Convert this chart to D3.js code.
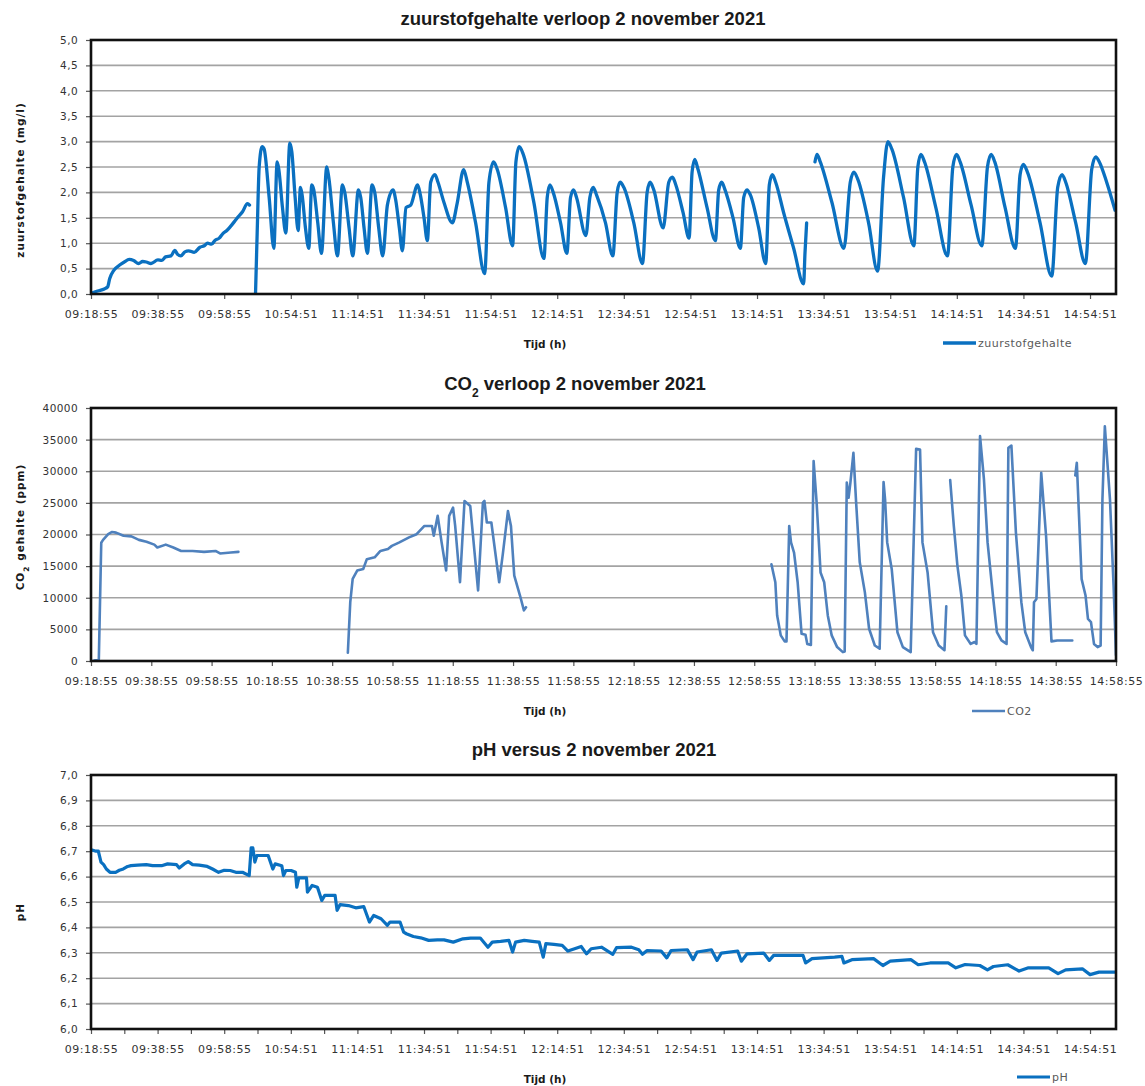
<!DOCTYPE html>
<html><head><meta charset="utf-8">
<script src="https://cdn.jsdelivr.net/npm/d3@7"></script>
<style>body{margin:0;background:#fff}</style>
</head><body><svg id="c" width="1145" height="1086"></svg>
<script>
// ---------- DATA ----------
// category axis labels (O2 and pH charts); each label is one step of 20 on the x scale
const catTickLabels = ["09:18:55","09:38:55","09:58:55","10:54:51","11:14:51","11:34:51","11:54:51","12:14:51","12:34:51","12:54:51","13:14:51","13:34:51","13:54:51","14:14:51","14:34:51","14:54:51"];
// time axis labels for CO2 chart (minutes after 09:18:55)
const co2TickLabels = ["09:18:55","09:38:55","09:58:55","10:18:55","10:38:55","10:58:55","11:18:55","11:38:55","11:58:55","12:18:55","12:38:55","12:58:55","13:18:55","13:38:55","13:58:55","14:18:55","14:38:55","14:58:55"];
const o2YTicks = [0,0.5,1,1.5,2,2.5,3,3.5,4,4.5,5];
const co2YTicks = [0,5000,10000,15000,20000,25000,30000,35000,40000];
const phYTicks = [6.0,6.1,6.2,6.3,6.4,6.5,6.6,6.7,6.8,6.9,7.0];

// zuurstofgehalte (mg/l): [position on category axis, value]; null = gap
const o2Points = [
 [0.3,0.02],[2.0,0.06],[4.0,0.10],[5.0,0.14],[5.6,0.30],[6.9,0.47],[8.6,0.57],[10.0,0.63],[11.5,0.68],[12.8,0.66],
 [14.3,0.60],[15.5,0.64],[16.6,0.63],[18.0,0.60],[20.1,0.67],[21.2,0.66],[22.4,0.73],[24.0,0.75],[25.2,0.86],[26.0,0.78],
 [27.0,0.75],[28.2,0.83],[29.3,0.85],[31.0,0.82],[32.7,0.92],[34.0,0.95],[35.0,1.00],[36.2,0.98],[37.3,1.06],[38.5,1.10],
 [39.6,1.19],[40.8,1.25],[41.9,1.33],[43.0,1.42],[44.2,1.52],[45.5,1.62],[47.0,1.78],[47.6,1.75],
 null,
 [49.4,0.0],[49.9,1.2],[50.5,2.5],[51.4,2.9],[52.0,2.85],[53.5,1.9],[54.9,0.9],[55.9,2.6],[56.4,2.45],[57.5,1.7],
 [58.5,1.2],[59.7,2.97],[60.3,2.8],[61.3,1.9],[62.2,1.25],[62.9,2.1],[63.4,1.95],[64.4,1.3],[65.4,0.9],[66.3,2.15],
 [66.9,2.05],[68.1,1.4],[69.2,0.8],[70.8,2.5],[71.4,2.3],[72.8,1.4],[74.0,0.75],[75.5,2.15],[76.2,2.0],[77.5,1.3],
 [78.6,0.75],[80.3,2.05],[81.0,1.9],[82.0,1.3],[83.0,0.8],[84.4,2.15],[85.2,2.0],[86.4,1.3],[87.6,0.75],[89.0,1.75],
 [90.7,2.05],[91.5,1.85],[92.6,1.3],[93.5,0.85],[94.6,1.7],[96.0,1.75],[98.1,2.15],[98.9,1.95],[100.0,1.5],[101.0,1.05],
 [102.0,2.2],[103.3,2.35],[104.2,2.2],[106.0,1.8],[108.5,1.4],[110.0,1.8],[111.9,2.45],[113.0,2.2],[115.5,1.4],[118.2,0.4],
 [119.5,2.2],[120.9,2.6],[122.0,2.45],[124.5,1.7],[126.6,0.95],[127.6,2.6],[128.6,2.9],[129.8,2.75],[133.0,1.8],[136.0,0.7],
 [137.0,1.9],[137.8,2.15],[138.8,2.0],[141.0,1.4],[142.9,0.8],[144.0,1.9],[144.9,2.05],[145.8,1.9],[148.6,1.15],[149.8,1.9],
 [150.8,2.1],[151.8,1.95],[154.5,1.4],[156.7,0.75],[158.0,2.0],[158.9,2.2],[160.0,2.1],[163.0,1.4],[165.6,0.6],[167.0,2.0],
 [167.9,2.2],[169.0,2.05],[171.8,1.3],[173.5,2.2],[174.6,2.3],[175.6,2.15],[177.8,1.6],[179.6,1.1],[180.5,2.4],[181.3,2.65],
 [182.3,2.45],[185.0,1.7],[187.5,1.05],[188.5,2.05],[189.4,2.2],[190.4,2.05],[192.8,1.5],[195.0,0.9],[196.0,1.9],[197.0,2.05],
 [198.0,1.95],[200.5,1.3],[202.6,0.6],[203.7,2.15],[204.6,2.35],[205.6,2.2],[208.0,1.6],[211.0,0.9],[214.0,0.2],[214.4,0.8],[214.9,1.4],
 null,
 [217.4,2.6],[218.0,2.75],[219.0,2.6],[222.5,1.8],[226.1,0.9],[228.0,2.2],[229.1,2.4],[230.3,2.25],[233.5,1.4],[236.2,0.45],
 [238.0,2.3],[239.3,3.0],[240.5,2.85],[244.0,1.9],[247.1,0.95],[248.3,2.5],[249.2,2.75],[250.3,2.6],[253.7,1.7],[257.2,0.75],
 [258.8,2.5],[259.9,2.75],[261.0,2.6],[264.3,1.75],[267.5,0.95],[269.2,2.5],[270.3,2.75],[271.4,2.6],[274.5,1.7],[277.6,0.9],
 [279.0,2.35],[280.0,2.55],[281.2,2.4],[285.0,1.4],[288.5,0.35],[290.3,2.1],[291.6,2.35],[292.7,2.2],[295.7,1.4],[298.6,0.6],
 [300.5,2.45],[301.7,2.7],[302.8,2.6],[305.0,2.2],[307.5,1.65]
];

// CO2 (ppm): [minutes after 09:18:55, value]; null = gap
const co2Points = [
 [0.7,0],[2.6,300],[3.4,18700],[4.0,19150],[5.7,20050],[7.0,20400],[8.3,20300],[10.8,19800],[13.4,19700],[15.9,19150],
 [18.4,18850],[21.0,18400],[22.0,17950],[24.8,18400],[27.3,17950],[29.9,17400],[33.7,17400],[37.5,17250],[41.3,17400],
 [42.8,17000],[46.4,17150],[48.9,17250],
 null,
 [85.2,1300],[86.0,9300],[86.8,13000],[88.3,14300],[90.3,14550],[91.5,16100],[94.1,16400],[96.0,17400],[98.5,17700],
 [99.8,18200],[102.3,18750],[105.5,19550],[108.0,20050],[110.6,21350],[113.1,21350],[113.7,19800],[115.0,22950],[116.3,18750],
 [117.8,14300],[118.8,22950],[120.1,24250],[120.8,21350],[122.4,12450],[123.9,25300],[125.8,24500],[128.4,11150],[130.0,25050],
 [130.5,25300],[131.3,21900],[132.8,21900],[135.4,12450],[136.6,16900],[138.3,23700],[139.3,21350],[140.4,13500],[142.3,10350],
 [143.6,8000],[144.3,8500],
 null,
 [225.7,15300],[227.0,12450],[227.6,7200],[228.8,4050],[230.1,3100],[230.7,3100],[231.6,21350],[232.2,18750],[233.2,17150],
 [234.4,12450],[235.7,4300],[237.0,4150],[237.6,2700],[238.8,2550],[239.7,31600],[240.7,25050],[242.0,14000],[243.2,12450],
 [244.4,7200],[245.7,4050],[247.5,2200],[249.4,1400],[250.0,1500],[250.7,28200],[251.3,25800],[251.9,28200],[252.9,32900],
 [253.8,25050],[255.0,15600],[256.7,10850],[258.1,5100],[260.0,2450],[261.6,1950],[262.9,28300],[263.4,25550],[264.1,18750],
 [265.6,14550],[267.5,4550],[269.3,2200],[271.9,1400],[273.7,33550],[275.0,33450],[275.8,18750],[277.5,14000],[279.3,4550],
 [281.2,2450],[283.1,1700],[283.7,8650],
 null,
 [285.0,28600],[286.2,21350],[287.4,15050],[288.7,10350],[289.9,4050],[291.8,2700],[293.1,3000],[293.7,2700],[294.9,35550],
 [296.2,28700],[297.4,18750],[299.3,9800],[300.5,4550],[302.0,3250],[303.7,2700],[304.3,33700],[305.3,34050],[306.8,20300],
 [308.6,9300],[309.9,4550],[311.8,2200],[312.4,1700],[312.8,9300],[313.6,9800],[315.2,29750],[316.8,19800],[318.6,3100],
 [320.5,3250],[325.5,3250],
 null,
 [326.5,29350],[327.0,31350],[328.6,12950],[329.9,10350],[330.7,6650],[331.7,6150],[332.7,2700],[333.9,2200],[334.9,2450],
 [335.5,25550],[336.3,37100],[338.0,25550],[339.2,11900],[340.0,900]
];

// pH: [position on category axis, value]
const phPoints = [
 [0.3,6.705],[1.5,6.70],[2.2,6.70],[3.0,6.657],[3.8,6.647],[4.6,6.63],[5.7,6.617],[7.4,6.617],[8.5,6.625],[9.7,6.63],
 [11.0,6.64],[12.0,6.643],[14.0,6.645],[16.6,6.647],[18.5,6.643],[21.2,6.643],[23.0,6.65],[25.7,6.647],[26.5,6.634],[28.0,6.65],
 [29.2,6.659],[30.5,6.647],[32.5,6.645],[34.9,6.64],[36.5,6.63],[38.3,6.617],[40.0,6.625],[41.8,6.624],[43.5,6.617],[45.5,6.617],
 [47.5,6.604],[48.1,6.713],[48.6,6.713],[49.2,6.657],[49.8,6.683],[53.2,6.683],[54.6,6.63],[55.3,6.65],[57.3,6.643],[57.8,6.604],
 [58.5,6.624],[60.1,6.624],[61.4,6.617],[61.8,6.558],[62.4,6.595],[64.7,6.595],[65.0,6.539],[66.4,6.565],[68.0,6.558],[69.3,6.506],
 [70.2,6.526],[73.3,6.526],[73.9,6.467],[74.8,6.49],[77.3,6.486],[79.5,6.477],[81.9,6.482],[83.6,6.421],[84.9,6.447],[87.1,6.434],
 [89.0,6.408],[89.8,6.421],[92.8,6.421],[93.9,6.381],[94.7,6.375],[96.8,6.364],[99.0,6.359],[101.4,6.349],[104.0,6.351],[106.0,6.351],
 [108.8,6.342],[111.7,6.355],[114.0,6.358],[116.9,6.358],[119.2,6.322],[120.5,6.342],[123.0,6.345],[125.5,6.349],[126.6,6.303],[127.5,6.342],
 [130.1,6.349],[132.5,6.345],[134.6,6.342],[135.8,6.283],[136.6,6.336],[139.0,6.333],[141.5,6.329],[143.2,6.307],[145.0,6.315],[147.2,6.325],
 [148.8,6.296],[150.2,6.316],[153.3,6.322],[156.7,6.294],[157.8,6.32],[162.3,6.322],[164.5,6.312],[165.6,6.294],[167.0,6.309],[171.2,6.307],
 [172.9,6.28],[174.2,6.309],[179.1,6.312],[180.8,6.273],[182.0,6.303],[186.3,6.312],[188.0,6.27],[189.3,6.299],[194.2,6.307],[195.3,6.267],
 [197.0,6.296],[202.0,6.299],[203.7,6.27],[205.0,6.29],[213.8,6.29],[214.6,6.26],[216.5,6.277],[223.3,6.283],[225.5,6.286],[226.1,6.26],
 [228.5,6.273],[235.0,6.277],[237.8,6.25],[240.0,6.267],[246.2,6.273],[248.4,6.253],[252.0,6.26],[257.4,6.26],[259.7,6.241],[262.5,6.254],
 [266.9,6.25],[269.2,6.233],[271.0,6.246],[275.3,6.253],[278.7,6.228],[281.5,6.241],[287.6,6.241],[290.4,6.218],[292.7,6.233],[297.7,6.237],
 [300.0,6.214],[302.7,6.224],[307.5,6.224]
];

// ---------- DRAWING ----------
const svg = d3.select("#c");
svg.append("rect").attr("width",1145).attr("height",1086).attr("fill","#fff");

const PL = 91, PR = 1116;
const tickFont = "DejaVu Sans";
const commaFmt = d => d3.format(".1f")(d).replace(".", ",");

function panel(o){
  const g = svg.append("g");
  const x = d3.scaleLinear().domain(o.xDomain).range([PL, PR]);
  const y = d3.scaleLinear().domain(o.yDomain).range([o.bottom, o.top]);

  // gridlines
  g.append("g").selectAll("line").data(o.yTicks).join("line")
    .attr("x1", PL).attr("x2", PR)
    .attr("y1", d => y(d)).attr("y2", d => y(d))
    .attr("stroke", "#a3a3a3").attr("stroke-width", 1.6);

  // y axis
  const ya = g.append("g").attr("transform", `translate(${PL},0)`)
    .call(d3.axisLeft(y).tickValues(o.yTicks).tickFormat(o.yFmt).tickSize(5).tickPadding(8));
  ya.select(".domain").remove();
  ya.selectAll(".tick line").attr("stroke", "#555").attr("stroke-width", 1.2);
  ya.selectAll(".tick text").attr("font-family", tickFont).attr("font-size", 10.5)
    .attr("fill", "#333").style("letter-spacing", "0.4px");

  // x axis
  const xa = g.append("g").attr("transform", `translate(0,${o.bottom})`)
    .call(d3.axisBottom(x).tickValues(o.xTickVals).tickFormat(o.xTickFmt).tickSize(5).tickPadding(11));
  xa.select(".domain").remove();
  xa.selectAll(".tick line").attr("stroke", "#555").attr("stroke-width", 1.2);
  xa.selectAll(".tick text").attr("font-family", tickFont).attr("font-size", 11)
    .attr("fill", "#333").style("letter-spacing", "0.5px");

  // series line
  const clipId = "clip" + o.id;
  svg.append("clipPath").attr("id", clipId).append("rect")
    .attr("x", PL).attr("y", o.top).attr("width", PR - PL).attr("height", o.bottom - o.top);
  const line = d3.line().defined(d => d !== null)
    .x(d => x(d[0])).y(d => y(d[1])).curve(o.curve);
  g.append("path").datum(o.points).attr("d", line)
    .attr("fill", "none").attr("stroke", o.color).attr("stroke-width", o.lw)
    .attr("stroke-linejoin", "round").attr("stroke-linecap", "round")
    .attr("clip-path", `url(#${clipId})`);

  // frame
  g.append("rect").attr("x", PL).attr("y", o.top).attr("width", PR - PL).attr("height", o.bottom - o.top)
    .attr("fill", "none").attr("stroke", "#111").attr("stroke-width", 2.6);

  // title
  const t = g.append("text").attr("x", o.titleX).attr("y", o.titleY).attr("text-anchor", "middle")
    .attr("font-family", "Liberation Sans").attr("font-weight", "bold").attr("font-size", 18.5).attr("fill", "#1a1a1a");
  o.title.forEach(p => {
    const s = t.append("tspan").text(p.t);
    if (p.sub) s.attr("font-size", 12).attr("baseline-shift", "sub");
  });

  // y title
  const yt = g.append("text").attr("transform", `translate(${o.yTitleX},${o.yTitleY}) rotate(-90)`)
    .attr("text-anchor", "middle").attr("font-family", "DejaVu Sans").attr("font-weight", "bold")
    .attr("font-size", 10.5).attr("fill", "#1a1a1a").style("letter-spacing", "1px");
  o.yTitle.forEach(p => {
    const s = yt.append("tspan").text(p.t);
    if (p.sub) s.attr("font-size", 7.5).attr("baseline-shift", "sub");
  });

  // x title
  g.append("text").attr("x", 545).attr("y", o.bottom + 54).attr("text-anchor", "middle")
    .attr("font-family", "DejaVu Sans").attr("font-weight", "bold").attr("font-size", 10.5)
    .attr("fill", "#1a1a1a").text("Tijd (h)");

  // legend
  g.append("line").attr("x1", o.legendX).attr("x2", o.legendX + 33)
    .attr("y1", o.legendY).attr("y2", o.legendY)
    .attr("stroke", o.color).attr("stroke-width", o.lw);
  g.append("text").attr("x", o.legendX + 35).attr("y", o.legendY + 4)
    .attr("font-family", "DejaVu Sans").attr("font-size", 11).attr("fill", "#595959")
    .style("letter-spacing", "0.5px").text(o.legendText);
}

const catPos = catTickLabels.map((d, i) => i * 20);
const catMap = new Map(catPos.map((p, i) => [p, catTickLabels[i]]));

// Chart 1: zuurstofgehalte
panel({
  id: "o2", top: 40, bottom: 294,
  xDomain: [0, 307.8], yDomain: [0, 5],
  yTicks: o2YTicks, yFmt: commaFmt,
  xTickVals: catPos, xTickFmt: d => catMap.get(d),
  points: o2Points, curve: d3.curveMonotoneX, color: "#0a70c0", lw: 3.3,
  title: [{t: "zuurstofgehalte verloop 2 november 2021"}], titleX: 583, titleY: 25,
  yTitle: [{t: "zuurstofgehalte (mg/l)"}], yTitleX: 24, yTitleY: 180,
  legendX: 943, legendY: 343, legendText: "zuurstofgehalte"
});

// Chart 2: CO2
const co2Pos = co2TickLabels.map((d, i) => i * 20);
const co2Map = new Map(co2Pos.map((p, i) => [p, co2TickLabels[i]]));
panel({
  id: "co2", top: 408, bottom: 661,
  xDomain: [0, 340], yDomain: [0, 40000],
  yTicks: co2YTicks, yFmt: d3.format("d"),
  xTickVals: co2Pos, xTickFmt: d => co2Map.get(d),
  points: co2Points, curve: d3.curveLinear, color: "#4f81bd", lw: 2.6,
  title: [{t: "CO"}, {t: "2", sub: true}, {t: " verloop 2 november 2021"}], titleX: 575, titleY: 390,
  yTitle: [{t: "CO"}, {t: "2", sub: true}, {t: " gehalte (ppm)"}], yTitleX: 24, yTitleY: 527,
  legendX: 972, legendY: 711, legendText: "CO2"
});

// Chart 3: pH (ticks every half label step, labels every step)
const phTickPos = d3.range(0, 301, 10);
panel({
  id: "ph", top: 775, bottom: 1029,
  xDomain: [0, 307.8], yDomain: [6, 7],
  yTicks: phYTicks, yFmt: commaFmt,
  xTickVals: phTickPos, xTickFmt: d => catMap.get(d) || "",
  points: phPoints, curve: d3.curveLinear, color: "#0a70c0", lw: 3.2,
  title: [{t: "pH versus 2 november 2021"}], titleX: 594, titleY: 756,
  yTitle: [{t: "pH"}], yTitleX: 24, yTitleY: 912,
  legendX: 1017, legendY: 1077, legendText: "pH"
});
</script>
</body></html>
